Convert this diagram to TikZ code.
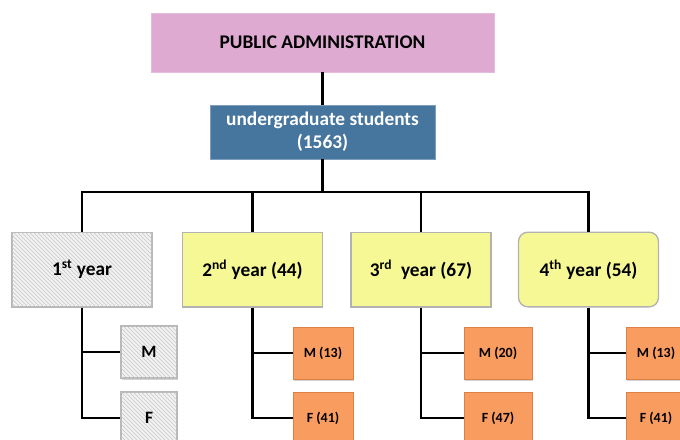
\documentclass[tikz,border=0pt]{standalone}
\usepackage{fontspec}
\setmainfont{Carlito}
\usetikzlibrary{patterns}
\usetikzlibrary{shadows}

\definecolor{pinkbox}{RGB}{222,170,210}
\definecolor{bluebox}{RGB}{70,117,158}
\definecolor{yellowbox}{RGB}{246,248,150}
\definecolor{orangebox}{RGB}{249,156,96}
\definecolor{orangeedge}{RGB}{222,128,70}

\tikzset{
  head/.style={rectangle,fill=pinkbox,draw=pinkbox!80,minimum width=257pt,minimum height=44pt,font=\bfseries\fontsize{14.5}{17}\selectfont},
  students/.style={rectangle,fill=bluebox,draw=bluebox!70,minimum width=169pt,minimum height=40.5pt,align=center,text=white,font=\bfseries\fontsize{14.5}{17}\selectfont},
  year/.style={rectangle,fill=yellowbox,draw=black!30,line width=1pt,minimum width=105pt,minimum height=56pt,font=\bfseries\fontsize{14.5}{17}\selectfont},
  hatched/.style={fill=black!5,postaction={pattern=north west lines,pattern color=black!22},draw=black!28,line width=1pt},
  sex/.style={rectangle,fill=orangebox,draw=orangeedge,minimum height=39pt,font=\bfseries\fontsize{10.5}{12}\selectfont,
    drop shadow={opacity=0.35,shadow xshift=1pt,shadow yshift=-1.2pt}},
  plain sex/.style={sex,hatched,drop shadow={opacity=0},minimum width=42pt,font=\bfseries\fontsize{13}{15}\selectfont},
  link/.style={line width=2.1pt}
}

\begin{document}
\begin{tikzpicture}[x=0.75pt,y=-0.75pt]
\useasboundingbox (0,0) rectangle (680,439);

\node[head] (admin) at (322.5,42.5) {PUBLIC ADMINISTRATION};
\node[students] (under) at (322.5,132) {undergraduate students\\(1563)};

\node[year,hatched] (y1) at (82,269.5) {1\textsuperscript{st} year};
\node[year] (y2) at (252.5,269.5) {2\textsuperscript{nd} year (44)};
\node[year] (y3) at (421,269.5) {3\textsuperscript{rd}\ \ year (67)};
\node[year,rounded corners=7pt] (y4) at (588.5,269.5) {4\textsuperscript{th} year (54)};

\node[plain sex] (m1) at (149,352) {M};
\node[plain sex] (f1) at (149,418) {F};
\node[sex,minimum width=45pt] (m2) at (323,353) {M (13)};
\node[sex,minimum width=45pt] (f2) at (323,418) {F (41)};
\node[sex,minimum width=51pt] (m3) at (498,353) {M (20)};
\node[sex,minimum width=51pt] (f3) at (498,418) {F (47)};
\node[sex,minimum width=45pt] (m4) at (656,353) {M (13)};
\node[sex,minimum width=45pt] (f4) at (656,418) {F (41)};

\coordinate (bus) at (322.5,192);

\draw[link] (admin) -- (under);
\draw[link] (under) -- (bus);
\draw[link] (y1.north) |- (bus) -| (y4.north);
\draw[link] (y2.north) -- (y2.north |- bus);
\draw[link] (y3.north) -- (y3.north |- bus);

\foreach \n in {1,2,3,4}{
  \draw[link] (y\n.south) |- (m\n.west);
  \draw[link] (y\n.south) |- (f\n.west);
}

\end{tikzpicture}
\end{document}
